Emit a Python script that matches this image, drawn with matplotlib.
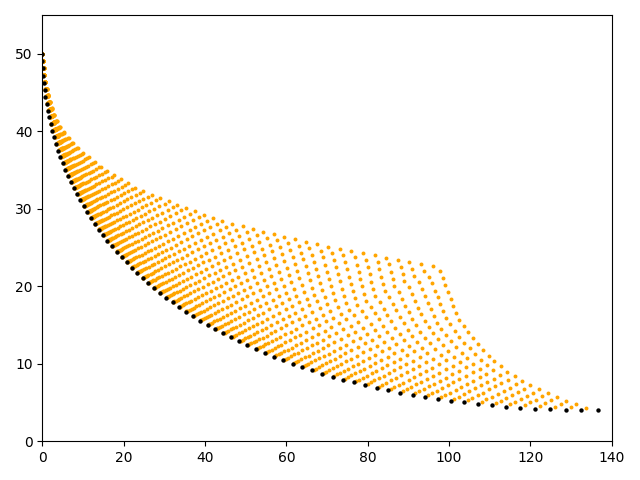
import numpy as np
import matplotlib.pyplot as plt

# black front: 81 dots from (0, 50) down to (136.5, 4)
n_black = 81
front_x_end = 136.5
front_y_start = 50.0
front_y_floor = 4.0
front_exp = 1.9
front_spacing = (0.87, 0.026, 0.104)   # how the dots spread along the front

# outer edge of the orange cloud: along the top ...
top_x = [0.0, 0.6, 1.2, 2.0, 3.2, 4.8, 6.9, 10.0, 12.9, 16.3, 20.0, 24.0,
         28.4, 35.2, 42.8, 50.8, 59.1, 67.6, 73.6, 82.5, 91.3, 97.0]
top_y = [50.2, 46.8, 45.3, 43.6, 41.7, 40.2, 38.9, 37.2, 36.1, 34.7, 33.6, 32.4,
         31.5, 30.1, 28.6, 27.5, 26.4, 25.4, 24.8, 23.9, 23.0, 22.5]
# ... and down the right side
right_x = [97.0, 97.8, 98.8, 99.6, 100.6, 102.0, 104.8, 108.2, 110.6, 113.5,
           116.6, 120.3, 124.6, 129.0, 133.7, 136.5]
right_y = [22.5, 21.9, 20.6, 19.3, 18.0, 16.1, 13.9, 11.9, 10.55, 9.3,
           8.2, 7.1, 6.16, 5.13, 4.35, 3.97]

ray_slope = 0.27     # orange rays leave each black dot at this slope
max_steps = 27       # most orange dots on one ray
spread_long = 1.8    # long rays: dots packed near the black dot
spread_short = 1.0   # short rays: dots evenly spaced
mix = 0.6            # share of the plain spread in the final dot spacing

# black dots
u = np.linspace(0, 1, n_black)
a, b, c = front_spacing
phi = a * u + b * u**2 + c * u**3
phi = phi / phi[-1]
bx = front_x_end * phi**front_exp
by = front_y_floor + (front_y_start - front_y_floor) * (1 - phi)**front_exp

edge_x = np.array(top_x + right_x[1:])
edge_y = np.array(top_y + right_y[1:])


def ray_length(x0, y0):
    # x distance until the ray from (x0, y0) hits the outer edge
    best = None
    for k in range(len(edge_x) - 1):
        ex = edge_x[k + 1] - edge_x[k]
        ey = edge_y[k + 1] - edge_y[k]
        rx = edge_x[k] - x0
        ry = edge_y[k] - y0
        det = ray_slope * ex - ey
        if abs(det) < 1e-12:
            continue
        t = (ex * ry - ey * rx) / det
        w = (ry - ray_slope * rx) / det
        if 0 <= w <= 1 and t > 1e-9:
            if best is None or t < best:
                best = t
    return 0.0 if best is None else best


last = n_black - 1
end_x = np.array([bx[i] + ray_length(bx[i], by[i]) for i in range(n_black)])
end_x[last] = bx[last]

# column j runs from the top end of ray j - max_steps down to black dot j;
# its profile is the one of the right-hand edge (column `last`)
corner = last - max_steps
col_top = np.array([end_x[max(j - max_steps, 0)] for j in range(n_black)])
profile = np.ones(max_steps + 1)
for L in range(1, max_steps + 1):
    profile[L] = (end_x[last - L] - end_x[corner]) / (bx[last] - end_x[corner])

ox, oy = [], []
for i in range(last):
    n_steps = min(max_steps, last - i)
    length = end_x[i] - bx[i]
    p = spread_short + (spread_long - spread_short) * (n_steps - 1) / (max_steps - 1)
    for L in range(1, n_steps + 1):
        j = i + L
        x_col = col_top[j] + (bx[j] - col_top[j]) * profile[L]
        x_col = min(max(x_col, bx[i]), end_x[i])
        x_ray = bx[i] + length * (L / n_steps)**p
        x = mix * x_ray + (1 - mix) * x_col
        ox.append(x)
        oy.append(by[i] + ray_slope * (x - bx[i]))

plt.figure(figsize=(6.4, 4.8))
plt.scatter(ox, oy, s=8, c='orange', linewidths=0)
plt.scatter(bx, by, s=10, c='black', linewidths=0)
plt.xlim(0, 140)
plt.ylim(0, 55)
plt.tight_layout()
plt.savefig('out.png')
